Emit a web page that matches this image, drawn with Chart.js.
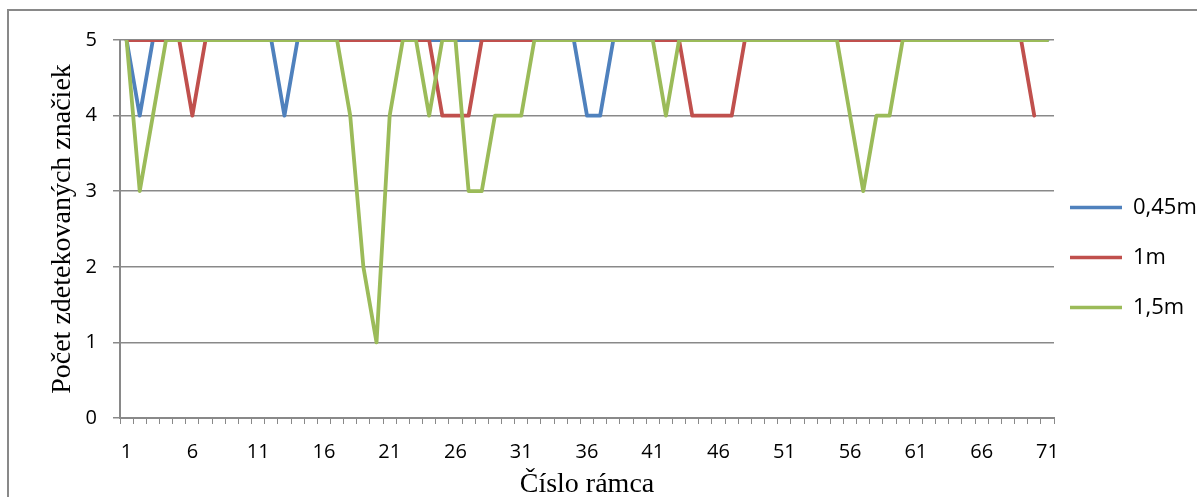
<!DOCTYPE html>
<html>
<head>
<meta charset="utf-8">
<script src="https://cdn.jsdelivr.net/npm/chart.js@4.4.1/dist/chart.umd.min.js"></script>
<style>
  body { margin: 0; background: #fff; }
  #wrap { position: relative; width: 1197px; height: 497px; overflow: hidden; }
  #frame { position: absolute; left: 7px; top: 9px; right: -5px; bottom: -5px;
           border-left: 2px solid #898989; border-top: 2px solid #898989; }
  canvas { position: absolute; left: 0; top: 0; }
</style>
</head>
<body>
<div id="wrap"><div id="frame"></div><canvas id="myChart" width="1197" height="497"></canvas></div>
<script>
var Frames = [1,2,3,4,5,6,7,8,9,10,11,12,13,14,15,16,17,18,19,20,
              21,22,23,24,25,26,27,28,29,30,31,32,33,34,35,36,37,38,39,40,
              41,42,43,44,45,46,47,48,49,50,51,52,53,54,55,56,57,58,59,60,
              61,62,63,64,65,66,67,68,69,70,71];
var TickLabels = [1,6,11,16,21,26,31,36,41,46,51,56,61,66,71];

var D045 = [5,4,5,5,5,5,5,5,5,5, 5,5,4,5,5,5,5,5,5,5, 5,5,5,5,5,5,5,5,5,5,
            5,5,5,5,5,4,4,5,5,5, 5,5,5,5,5,5,5,5,5,5, 5,5,5,5,5,5,5,5,5,5,
            5,5,5,5,5,5,5,5,5,5, 5];
var D1   = [5,5,5,5,5,4,5,5,5,5, 5,5,5,5,5,5,5,5,5,5, 5,5,5,5,4,4,4,5,5,5,
            5,5,5,5,5,5,5,5,5,5, 5,5,5,4,4,4,4,5,5,5, 5,5,5,5,5,5,5,5,5,5,
            5,5,5,5,5,5,5,5,5,4];
var D15  = [5,3,4,5,5,5,5,5,5,5, 5,5,5,5,5,5,5,4,2,1, 4,5,5,4,5,5,3,3,4,4,
            4,5,5,5,5,5,5,5,5,5, 5,4,5,5,5,5,5,5,5,5, 5,5,5,5,5,4,3,4,4,5,
            5,5,5,5,5,5,5,5,5,5, 5];

var gray = "#898989";
var tickFont = { family: "Open Sans", size: 20 };
var legendFont = { family: "Open Sans", size: 22 };
var titleFont = { family: "Liberation Serif", size: 28 };

// pull the legend a bit closer to the plot, like the Excel original
var legendShift = {
  id: "legendShift",
  afterLayout: function(chart) {
    chart.legend.left -= 12;
  }
};

var ctx = document.getElementById("myChart");
var myChart = new Chart(ctx, {
  type: "line",
  data: {
    labels: Frames,
    datasets: [
      { label: "0,45m", data: D045, borderColor: "#4F81BD", backgroundColor: "#4F81BD", order: 2 },
      { label: "1m",    data: D1,   borderColor: "#C0504D", backgroundColor: "#C0504D", order: 1 },
      { label: "1,5m",  data: D15,  borderColor: "#9BBB59", backgroundColor: "#9BBB59", order: 0 }
    ]
  },
  plugins: [legendShift],
  options: {
    responsive: false,
    animation: false,
    layout: { padding: { left: 42, top: 40, right: 0, bottom: 0 } },
    elements: {
      line: { tension: 0, borderWidth: 3.8, borderJoinStyle: "round", borderCapStyle: "round", fill: false },
      point: { radius: 0, hoverRadius: 0, borderWidth: 3.5 }
    },
    plugins: {
      tooltip: { enabled: false },
      legend: {
        position: "right",
        fullSize: false,
        maxWidth: 143,
        title: { display: true, text: " ", font: { size: 10, lineHeight: 1 }, padding: { top: 23, bottom: 24 } },
        labels: {
          usePointStyle: true,
          pointStyle: "line",
          pointStyleWidth: 52,
          padding: 28,
          color: "#000",
          font: legendFont,
          sort: function(a, b) { return a.datasetIndex - b.datasetIndex; }
        }
      }
    },
    scales: {
      x: {
        offset: true,
        grid: { offset: true, drawOnChartArea: false, drawTicks: true, tickLength: 6, color: gray, lineWidth: 1 },
        border: { color: gray, width: 2 },
        ticks: {
          autoSkip: false, maxRotation: 0, minRotation: 0, padding: 16, color: "#000", font: tickFont,
          callback: function(v) {
            var l = this.getLabelForValue(v);
            return TickLabels.indexOf(Number(l)) >= 0 ? l : "";
          }
        },
        title: { display: true, text: "Číslo rámca", color: "#000",
                 font: { family: "Liberation Serif", size: 28, lineHeight: 1 }, padding: { top: -9, bottom: -2 } }
      },
      y: {
        min: 0, max: 5,
        grid: { color: gray, lineWidth: 1.5, tickLength: 7 },
        border: { color: gray, width: 2 },
        ticks: { stepSize: 1, padding: 16, color: "#000", font: tickFont },
        title: { display: true, text: "Počet zdetekovaných značiek", color: "#000", font: titleFont, padding: 4 },
        afterFit: function(scale) { scale.width = 78; }
      }
    }
  }
});
</script>
</body>
</html>
